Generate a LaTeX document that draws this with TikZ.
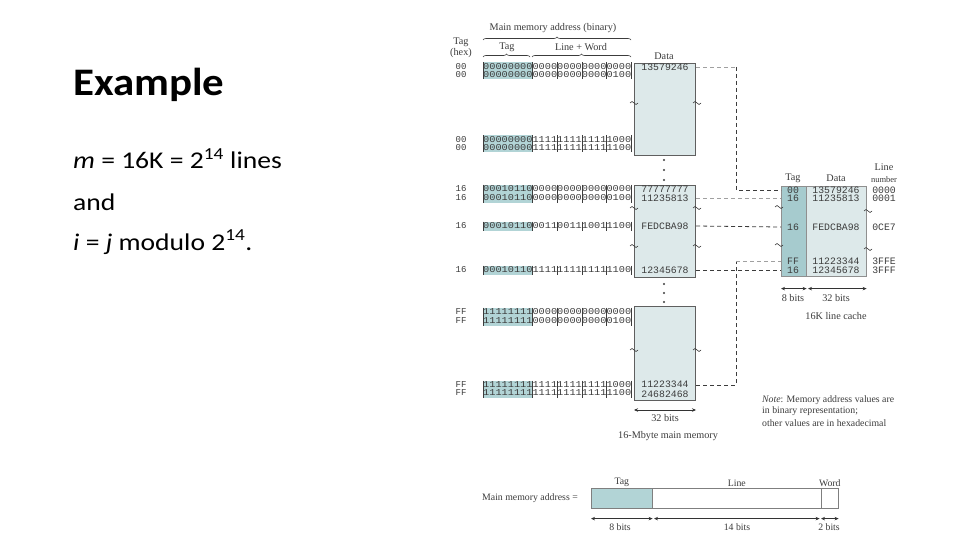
\documentclass[tikz,border=0pt]{standalone}
\usepackage{fontspec}
\setmainfont{Liberation Serif}
\newfontfamily\slidefont{Carlito}
\newfontfamily\bitfont{Liberation Mono}
\usepackage{xcolor}
\usetikzlibrary{positioning,decorations.pathreplacing,arrows.meta}

\definecolor{memfill}{RGB}{221,233,234}
\definecolor{tagfill}{RGB}{166,203,206}
\definecolor{bitshade}{RGB}{178,212,214}
\definecolor{framegray}{RGB}{95,95,95}
\definecolor{txtgray}{RGB}{60,60,60}
\definecolor{lightlink}{RGB}{160,160,160}

\newcommand{\wide}[1]{\scalebox{1.1}[1]{#1}}
\newcommand{\wider}[1]{\scalebox{1.15}[1]{#1}}
\newcommand{\bitstr}[1]{\resizebox{148pt}{6pt}{#1}}

\begin{document}
\begin{tikzpicture}[
    x=1pt, y=-1pt,
    slidetitle/.style={anchor=base west, inner sep=0pt,
                font=\slidefont\bfseries\fontsize{39}{44}\selectfont},
    slidetext/.style={anchor=base west, inner sep=0pt,
                font=\slidefont\fontsize{24}{28}\selectfont},
    lbl/.style={text=txtgray, inner sep=0pt, font=\fontsize{10.2}{11}\selectfont},
    small/.style={text=txtgray, inner sep=0pt, font=\fontsize{9.8}{10}\selectfont},
    tiny/.style={text=txtgray, inner sep=0pt, font=\fontsize{8.5}{9}\selectfont},
    hexlbl/.style={text=txtgray, inner sep=0pt, font=\bitfont\fontsize{9}{9}\selectfont},
    bitrow/.style={text=txtgray, anchor=west, inner sep=0pt, font=\bitfont},
    memval/.style={text=txtgray, inner sep=0pt, font=\bitfont\fontsize{9.8}{10}\selectfont},
    memseg/.style={draw=framegray, fill=memfill, line width=1pt, inner sep=0pt,
                anchor=north west, minimum width=61pt},
    cachecol/.style={draw=framegray!70, line width=0.6pt, inner sep=0pt,
                anchor=north west, minimum height=90pt},
    addrbox/.style={draw=framegray!80, line width=0.6pt, inner sep=0pt,
                anchor=north west, minimum height=20pt},
    link/.style={dash pattern=on 4pt off 3pt, line width=0.8pt, draw=txtgray},
    faint/.style={draw=lightlink},
    dim/.style={line width=0.8pt, draw=black!80,
                {Stealth[length=4pt,width=3.5pt]}-{Stealth[length=4pt,width=3.5pt]}},
    brc/.style={decorate, decoration={brace, amplitude=3pt}, line width=0.6pt, draw=txtgray},
    wiggle/.pic={\draw[line width=0.6pt, txtgray] (-4pt,0pt) sin (-2pt,1.5pt) cos (0pt,0pt)
                sin (2pt,-1.5pt) cos (4pt,0pt);}
]

% ---------- page ----------
\fill[white] (0,0) rectangle (960,540);

% ---------- slide text ----------
\node[slidetitle] (title) at (73,96) {\wide{Example}};
\node[slidetext] (line1) at (73,169) {\wider{\textit{m} = 16K = 2\textsuperscript{14} lines}};
\node[slidetext] (line2) at (73,210) {\wider{and}};
\node[slidetext] (line3) at (73,250) {\wider{\textit{i} = \textit{j} modulo 2\textsuperscript{14}.}};

% ---------- address header ----------
\node[lbl] (hdr) at (553,28) {Main memory address (binary)};
\draw[brc] (483,40) -- (631,40);
\node[lbl] (hdrtag) at (507,47) {Tag};
\node[lbl] (hdrlw) at (581,47) {Line + Word};
\draw[brc] (483,57) -- (530,57);
\draw[brc] (532,57) -- (631,57);
\node[lbl] (hextop) at (461,42) {Tag};
\node[lbl] (hexbot) at (461,53) {(hex)};
\node[lbl] (memhdr) at (664,56) {Data};

% ---------- main memory ----------
\node[memseg, minimum height=92pt] (seg1) at (634,63) {};
\node[memseg, minimum height=92pt] (seg2) at (634,185) {};
\node[memseg, minimum height=94pt] (seg3) at (634,306) {};
\foreach \yy in {160,170,180,284,293,302}
  \fill[txtgray] (664,\yy) circle (1.2pt);
\foreach \yy in {103,208,246,350} {
  \pic at (634,\yy) {wiggle};
  \pic at (697,\yy) {wiggle};
}

% ---------- address rows ----------
\foreach \yy/\hx/\bn [count=\i] in {
    67/00/000000000000000000000000, 75/00/000000000000000000000100,
    140/00/000000001111111111111000, 148/00/000000001111111111111100,
    189/16/000101100000000000000000, 198/16/000101100000000000000100,
    226/16/000101100011001110011100,
    270/16/000101101111111111111100,
    312/FF/111111110000000000000000, 321/FF/111111110000000000000100,
    385/FF/111111111111111111111000, 393/FF/111111111111111111111100} {
  \fill[bitshade] (483,\yy-4.5) rectangle (532,\yy+4.5);
  \foreach \k in {0,8,12,16,20,24}
    \draw[txtgray, line width=0.3pt] (483+\k*6.17,\yy-4.5) -- (483+\k*6.17,\yy+4.5);
  \node[hexlbl] (h\i) at (461,\yy) {\hx};
  \node[bitrow] (b\i) at (483,\yy) {\bitstr{\bn}};
}

% ---------- memory data ----------
\foreach \yy/\val/\nm in {67/13579246/d1, 189/77777777/d5, 198/11235813/d6,
    226/FEDCBA98/d7, 270/12345678/d8, 384/11223344/d11, 394/24682468/d12}
  \node[memval] (\nm) at (665,\yy) {\val};

\draw[dim] ([yshift=-9pt]seg3.south west) -- ([yshift=-9pt]seg3.south east);
\node[lbl] (membits) at (665,418) {32 bits};
\node[lbl] (memname) at (668,436) {16-Mbyte main memory};

% ---------- cache ----------
\node[cachecol, fill=tagfill, minimum width=25pt] (ctag) at (781,186) {};
\node[cachecol, fill=memfill, minimum width=60pt] (cdata) at (806,186) {};
\node[lbl] (ctaghdr) at (793,178) {Tag};
\node[lbl] (cdatahdr) at (836,178) {Data};
\node[lbl] (cnumhdr) at (884,167) {Line};
\node[tiny] (cnumhdr2) at (884,180) {number};
\foreach \yy/\tg/\val/\num [count=\i] in {190/00/13579246/0000, 198/16/11235813/0001,
    227/16/FEDCBA98/0CE7, 261/FF/11223344/3FFE, 270/16/12345678/3FFF} {
  \node[memval] (ct\i) at (793,\yy) {\tg};
  \node[memval] (cd\i) at (836,\yy) {\val};
  \node[memval] (cn\i) at (884,\yy) {\num};
}
\foreach \yy in {207,245}
  \pic at (779,\yy) {wiggle};
\foreach \yy in {211,249}
  \pic at (868,\yy) {wiggle};

\draw[dim] ([yshift=-12pt]ctag.south west) -- ([yshift=-12pt]ctag.south east);
\draw[dim] ([yshift=-12pt,xshift=2pt]cdata.south west) -- ([yshift=-12pt]cdata.south east);
\node[lbl] (ctagbits) at (793,298) {8 bits};
\node[lbl] (cdatabits) at (836,298) {32 bits};
\node[lbl] (cname) at (836,316) {16K line cache};

% ---------- mapping links ----------
\coordinate (bendA) at (736,67);
\coordinate (bendB) at (736,385);
\draw[link, faint] (seg1.east |- d1) -- (bendA);
\draw[link] (bendA) |- (ctag.west |- ct1);
\draw[link, faint] (seg2.east |- d6) -- (ctag.west |- ct2);
\draw[link] (seg2.east |- d7) -- (ctag.west |- ct3);
\draw[link] (seg2.east |- d8) -- (ctag.west |- ct5);
\draw[link] (seg3.east |- bendB) -- (bendB) -- (bendB |- ct4);
\draw[link, faint] (bendB |- ct4) -- (ctag.west |- ct4);

% ---------- note ----------
\node[small, anchor=west] (note1) at (762,400) {\textit{Note}: Memory address values are};
\node[small, anchor=west] (note2) at (762,411) {in binary representation;};
\node[small, anchor=west] (note3) at (762,423) {other values are in hexadecimal};

% ---------- address format ----------
\node[addrbox, fill=bitshade, minimum width=61pt] (atag) at (591,488) {};
\node[addrbox, fill=white, minimum width=169pt] (aline) at (652,488) {};
\node[addrbox, fill=white, minimum width=17pt] (aword) at (821,488) {};
\node[small, anchor=east] (aname) at (578,498) {Main memory address =};
\node[small, above=1pt of atag] (atagl) {Tag};
\node[small, above=1pt of aline] (alinel) {Line};
\node[small, above=1pt of aword] (awordl) {Word};
\draw[dim] ([yshift=-10pt]atag.south west) -- ([yshift=-10pt]atag.south east);
\draw[dim] ([yshift=-10pt,xshift=2pt]aline.south west) -- ([yshift=-10pt,xshift=-2pt]aline.south east);
\draw[dim] ([yshift=-10pt]aword.south west) -- ([yshift=-10pt]aword.south east);
\node[small] (atagb) at (620,527) {8 bits};
\node[small] (alineb) at (737,527) {14 bits};
\node[small] (awordb) at (829,527) {2 bits};

\useasboundingbox (0,0) rectangle (960,540);
\end{tikzpicture}
\end{document}
